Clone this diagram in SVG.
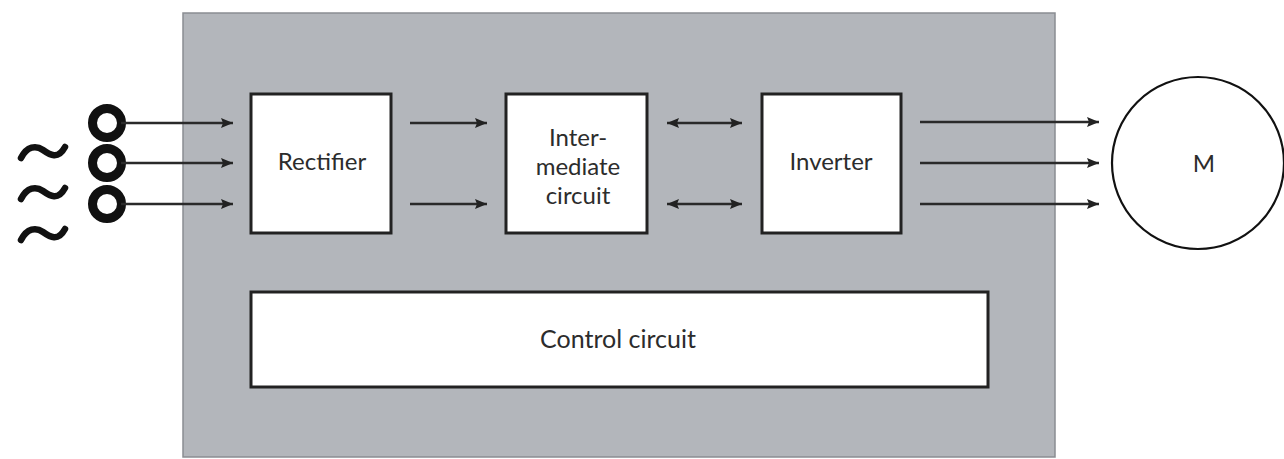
<svg xmlns="http://www.w3.org/2000/svg" width="1284" height="459" viewBox="0 0 1284 459">
<style>
.box{fill:#fff;stroke:#222;stroke-width:3}
.lbl{font-family:Lato,"Open Sans","Liberation Sans",sans-serif;font-size:24px;fill:#2c2c2c;text-anchor:middle}
.ln{stroke:#2a2a2a;stroke-width:2.5;fill:none}
.ring{fill:none;stroke:#111;stroke-width:9}
.tilde{fill:none;stroke:#111;stroke-width:6.5;stroke-linecap:round}
</style>
<defs>
<marker id="ah" viewBox="0 0 12 10" refX="12" refY="5" markerWidth="12" markerHeight="10" markerUnits="userSpaceOnUse" orient="auto-start-reverse">
<path d="M0,0 L12,5 L0,10 L2,5 Z" fill="#222"/>
</marker>
</defs>
<rect width="1284" height="459" fill="#fff"/>
<g id="housing"><rect x="183" y="13" width="872" height="444" fill="#b3b6bb" stroke="#8a8d92" stroke-width="1.5"/></g>
<g id="source">
<circle class="ring" cx="107" cy="123" r="14.5"/>
<circle class="ring" cx="107" cy="163" r="14.5"/>
<circle class="ring" cx="107" cy="204" r="14.5"/>
<path class="tilde" d="M21,158 C27,146 36,145 43,150 C50,155 58,160 65,147"/>
<path class="tilde" d="M21,199 C27,187 36,186 43,191 C50,196 58,201 65,188"/>
<path class="tilde" d="M21,240 C27,228 36,227 43,232 C50,237 58,242 65,229"/>
</g>
<g id="rectifier"><rect class="box" x="251" y="94" width="140" height="139"/><text class="lbl" x="322" y="170">Rectifier</text></g>
<g id="intermediate"><rect class="box" x="506" y="94" width="141" height="139"/>
<text class="lbl" x="578" y="146">Inter-</text><text class="lbl" x="578" y="175">mediate</text><text class="lbl" x="578" y="204">circuit</text></g>
<g id="inverter"><rect class="box" x="762" y="94" width="139" height="139"/><text class="lbl" x="831" y="170">Inverter</text></g>
<g id="control"><rect class="box" x="251" y="292" width="737" height="95"/><text class="lbl" x="618" y="348" style="font-size:25px">Control circuit</text></g>
<g id="motor"><circle cx="1198" cy="163" r="86" fill="#fff" stroke="#111" stroke-width="2.2"/><text class="lbl" x="1204" y="172">M</text></g>
<g id="connectors">
<line class="ln" x1="121" y1="123" x2="233" y2="123" marker-end="url(#ah)"/>
<line class="ln" x1="121" y1="163" x2="233" y2="163" marker-end="url(#ah)"/>
<line class="ln" x1="121" y1="204" x2="233" y2="204" marker-end="url(#ah)"/>
<line class="ln" x1="410" y1="123" x2="487" y2="123" marker-end="url(#ah)"/>
<line class="ln" x1="410" y1="204" x2="487" y2="204" marker-end="url(#ah)"/>
<line class="ln" x1="667" y1="123" x2="742" y2="123" marker-start="url(#ah)" marker-end="url(#ah)"/>
<line class="ln" x1="667" y1="204" x2="742" y2="204" marker-start="url(#ah)" marker-end="url(#ah)"/>
<line class="ln" x1="920" y1="122" x2="1099" y2="122" marker-end="url(#ah)"/>
<line class="ln" x1="920" y1="163" x2="1099" y2="163" marker-end="url(#ah)"/>
<line class="ln" x1="920" y1="204" x2="1099" y2="204" marker-end="url(#ah)"/>
</g>
</svg>
